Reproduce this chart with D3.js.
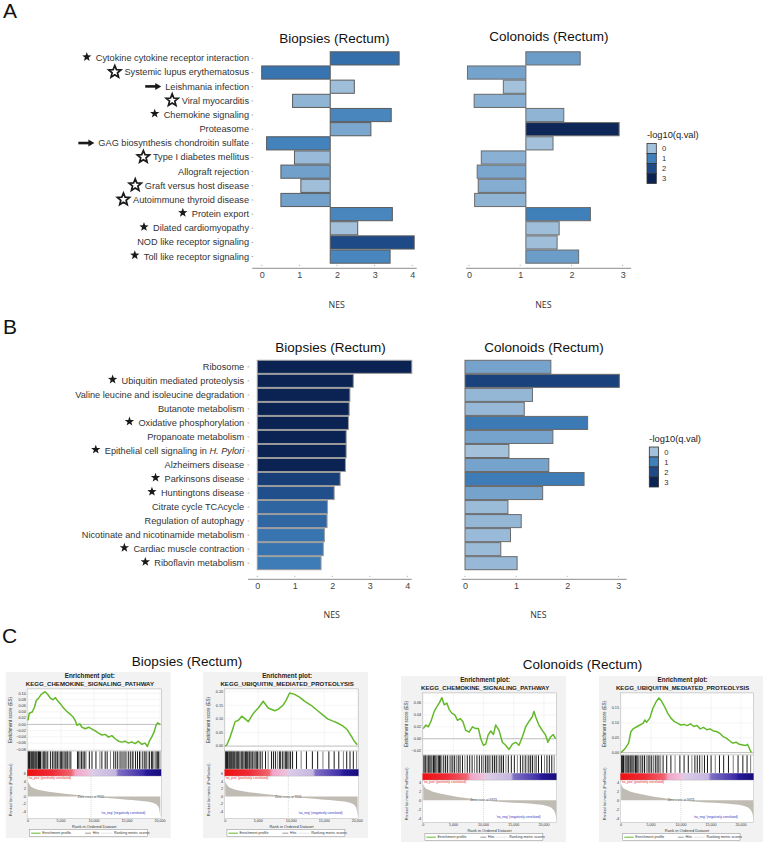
<!DOCTYPE html>
<html><head><meta charset="utf-8">
<script src="https://cdn.jsdelivr.net/npm/d3@7"></script>
<style>body{margin:0;background:#fff}svg{display:block;font-family:"Liberation Sans",Arial,sans-serif}</style>
</head><body><svg id="c" width="764" height="843"></svg>
<script>
// ---------------- DATA ----------------
const pathwaysA = ["Cytokine cytokine receptor interaction","Systemic lupus erythematosus","Leishmania infection","Viral myocarditis","Chemokine signaling","Proteasome","GAG biosynthesis chondroitin sulfate","Type I diabetes mellitus","Allograft rejection","Graft versus host disease","Autoimmune thyroid disease","Protein export","Dilated cardiomyopathy","NOD like receptor signaling","Toll like receptor signaling"];
const symbolsA = ["star","ostar","arrow","ostar","star","","arrow","ostar","","ostar","ostar","star","star","","star"];
const nesBiopsyA = [3.65,0.0,2.46,0.82,3.44,2.90,0.13,0.87,0.51,1.04,0.51,3.47,2.55,4.05,3.41];
const qBiopsyA = [1.3,1.2,0.05,0.2,0.9,0.4,0.95,0.1,0.5,0.05,0.5,0.9,0.0,2.0,0.9];
const nesColonoidA = [2.17,-0.03,0.67,0.10,1.85,2.93,1.64,0.24,0.16,0.18,0.11,2.37,1.76,1.72,2.14];
const qColonoidA = [0.55,0.45,0.0,0.25,0.2,2.9,0.0,0.25,0.4,0.3,0.2,1.0,0.05,0.05,0.55];
const baselineBiopsyA = 1.82;
const baselineColonoidA = 1.11;

const pathwaysB = ["Ribosome","Ubiquitin mediated proteolysis","Valine leucine and isoleucine degradation","Butanote metabolism","Oxidative phosphorylation","Propanoate metabolism","Epithelial cell signaling in H. Pylori","Alzheimers disease","Parkinsons disease","Huntingtons disease","Citrate cycle TCAcycle","Regulation of autophagy","Nicotinate and nicotinamide metabolism","Cardiac muscle contraction","Riboflavin metabolism"];
const symbolsB = ["","star","","","star","","star","","star","star","","","","star","star"];
const nesBiopsyB = [4.12,2.56,2.47,2.45,2.43,2.37,2.37,2.35,2.21,2.05,1.87,1.86,1.79,1.76,1.70];
const qBiopsyB = [3,3,3,3,3,3,3,3,2.3,1.9,1.5,1.45,1.2,1.2,1.05];
const nesColonoidB = [1.68,3.02,1.32,1.16,2.40,1.72,0.86,1.64,2.33,1.52,0.84,1.10,0.89,0.70,1.02];
const qColonoidB = [0.45,2.2,0.15,0.12,1.1,0.45,0.0,0.45,1.05,0.45,0.08,0.15,0.1,0.08,0.12];

const ticksBiopsy = [0,1,2,3,4];
const ticksColonoid = [0,1,2,3];
const legendLevels = [0,1,2,3];

// GSEA enrichment plots: [rank, enrichment score]
const esBiopsyChemokine = [[0,0.013],[200,0.036],[650,0.040],[1000,0.056],[1260,0.077],[1660,0.086],[2010,0.096],[2410,0.103],[2660,0.104],[3010,0.096],[3420,0.084],[3820,0.079],[4170,0.086],[4520,0.075],[4920,0.066],[5330,0.054],[5830,0.043],[6330,0.034],[6830,0.024],[7190,0.011],[7440,-0.003],[7840,0.002],[8190,-0.009],[8690,-0.014],[9200,-0.009],[9700,-0.015],[10200,-0.021],[10700,-0.028],[11210,-0.034],[11710,-0.032],[12210,-0.041],[12710,-0.036],[13220,-0.046],[13720,-0.054],[14220,-0.057],[14720,-0.054],[15230,-0.060],[15730,-0.056],[16230,-0.062],[16730,-0.054],[17240,-0.064],[17740,-0.060],[18090,-0.071],[18390,-0.054],[18740,-0.041],[19100,-0.025],[19400,-0.003],[19650,0.005],[19900,0.002],[20050,0.000]];
const esBiopsyUbiquitin = [[0,0.0],[250,0.005],[750,0.034],[1100,0.06],[1500,0.09],[2000,0.095],[2500,0.11],[3000,0.10],[3500,0.09],[4250,0.12],[5000,0.14],[5750,0.165],[6500,0.14],[7500,0.13],[8000,0.135],[8750,0.15],[9250,0.17],[9750,0.195],[10500,0.19],[11250,0.18],[12000,0.165],[13000,0.15],[14000,0.13],[15000,0.11],[15500,0.10],[16500,0.09],[17000,0.085],[17750,0.075],[18500,0.06],[19000,0.04],[19500,0.02],[20000,0.005]];
const esColonoidChemokine = [[0,0.017],[440,0.023],[830,0.02],[1270,0.029],[1820,0.046],[2260,0.054],[2640,0.06],[3090,0.069],[3470,0.057],[3910,0.06],[4300,0.049],[4740,0.043],[5230,0.04],[5680,0.031],[6120,0.034],[6560,0.029],[7050,0.014],[7600,0.011],[8150,0.02],[8710,0.017],[9150,0.017],[9530,0.0],[9970,-0.011],[10360,-0.009],[10740,0.006],[11190,0.013],[11630,0.007],[12010,0.023],[12560,0.014],[13110,-0.006],[13660,-0.011],[14220,-0.018],[14770,-0.009],[15320,-0.006],[15870,-0.011],[16420,0.003],[16970,0.02],[17520,0.029],[18070,0.037],[18350,0.046],[18620,0.037],[19170,0.023],[19730,0.014],[20280,0.006],[20660,-0.006],[21100,0.003],[21540,0.007],[21930,0.0]];
const esColonoidUbiquitin = [[0,0.0],[706,0.015],[1250,0.032],[1630,0.071],[2060,0.081],[2610,0.087],[3150,0.093],[3690,0.099],[3960,0.11],[4240,0.102],[4780,0.116],[5320,0.15],[5860,0.172],[6300,0.184],[6680,0.175],[7220,0.156],[7760,0.133],[8310,0.116],[8850,0.105],[9390,0.099],[9940,0.093],[10480,0.095],[11020,0.091],[11570,0.097],[12110,0.088],[12650,0.091],[13190,0.08],[13740,0.085],[14280,0.077],[14820,0.08],[15370,0.073],[15910,0.071],[16450,0.065],[17000,0.054],[17540,0.049],[18080,0.04],[18620,0.032],[19170,0.035],[19710,0.028],[20250,0.026],[20800,0.024],[21070,0.028],[21500,0.009],[21720,0.0]];

const hitsBiopsyChemokine = [50,150,250,400,500,650,800,900,1050,1200,1350,1500,1600,1750,1900,2100,2300,2450,2600,2800,3000,3400,3700,3900,4100,4250,4500,4700,4900,5100,5300,5500,5650,5900,6050,6300,6500,7500,7700,7900,8100,8350,8600,8800,9300,9700,10300,10900,11200,11700,12000,12500,13000,13300,13600,13900,14100,14400,14700,14900,15200,15500,15800,16000,16300,16600,16900,17100,17400,17700,17900,18200,18400,18700,18900,19100,19400,19600,19800,20000];
const hitsBiopsyUbiquitin = [60,200,350,500,600,750,900,1000,1150,1300,1450,1600,1750,1900,2050,2200,2400,2550,2700,2900,3050,3200,3400,3550,3700,3900,4100,4300,4500,4700,4900,5100,5300,5600,6100,6500,7000,7300,7600,7900,8200,8400,8700,8900,9100,9300,9500,9700,9900,10200,10800,11500,12300,13200,14000,14800,15700,16500,17200,17900,18400,18900,19400,19900];
const hitsColonoidChemokine = [100,300,450,700,900,1100,1300,1500,1700,1900,2100,2300,2500,2700,2900,3100,3400,3700,4000,4300,4600,4900,5200,5500,5800,6100,6500,6900,7300,7700,8100,8500,8900,9300,9700,10000,10300,10600,10900,11200,11500,11800,12100,12400,12700,13000,13300,13700,14100,14600,15100,15600,16100,16500,16900,17200,17500,17800,18100,18400,18700,19100,19600,20100,20500,20900,21300,21700];
const hitsColonoidUbiquitin = [80,250,400,600,800,1000,1200,1400,1600,1800,2000,2200,2400,2600,2800,3000,3300,3600,3900,4200,4500,4800,5100,5400,5700,6000,6300,6600,7000,7600,8300,9000,9800,10500,11200,11800,12300,12700,13100,13500,13900,14400,15000,15700,16400,17100,17900,18700,19500,20300,21000,21600];

// ranked list metric: [rank, metric]
const metricBiopsy = [[0,4.0],[300,3.0],[900,2.2],[2500,1.5],[5000,0.9],[7500,0.4],[9555,0],[12000,-0.4],[15000,-0.8],[18000,-1.3],[19200,-1.8],[19800,-2.8],[20050,-5.3]];
const metricColonoid = [[0,3.6],[300,2.8],[800,2.4],[4000,1.2],[7000,0.5],[9973,0],[13000,-0.4],[18000,-0.8],[20500,-1.3],[21500,-2.0],[21900,-3.0],[22050,-4.3]];
const zeroCrossBiopsy = 9555;
const zeroCrossColonoid = 9973;
const rankTicks = [0,5000,10000,15000,20000];

// ---------------- DRAW ----------------
const svg = d3.select('#c');
svg.append('rect').attr('width',764).attr('height',843).attr('fill','#fff');
const color = d3.scaleLinear().domain([0,1,2,3]).range(['#a3c1db','#3f7fba','#1e4a87','#0b2353']).clamp(true);

function starPath(cx,cy,R,r){
  const p=[];
  for(let i=0;i<10;i++){const a=-Math.PI/2+i*Math.PI/5;const rr=i%2?r:R;p.push([cx+rr*Math.cos(a),cy+rr*Math.sin(a)]);}
  return 'M'+p.map(d=>d[0].toFixed(2)+','+d[1].toFixed(2)).join('L')+'Z';
}

function barPanel(o){
  const y = d3.scaleBand().domain(o.names).range(o.yRange).paddingInner(0.07);
  const x = d3.scaleLinear().domain(o.xDomain).range(o.xRange);
  const g = svg.append('g');
  g.selectAll('rect.bar').data(o.names).join('rect').attr('class','bar')
    .attr('x',(d,i)=>Math.min(x(o.values[i]),x(o.baseline)))
    .attr('width',(d,i)=>Math.abs(x(o.values[i])-x(o.baseline)))
    .attr('y',d=>y(d)).attr('height',y.bandwidth())
    .attr('fill',(d,i)=>color(o.q[i]))
    .attr('stroke',o.stroke).attr('stroke-width',1);
  // x axis
  g.append('line').attr('x1',o.axisExtent[0]).attr('x2',o.axisExtent[1])
    .attr('y1',o.axisY).attr('y2',o.axisY).attr('stroke','#8c8c8c').attr('stroke-width',1);
  g.selectAll('rect.tk').data(o.ticks).join('rect').attr('class','tk')
    .attr('x',d=>x(d)-0.5).attr('y',o.axisY-3.5).attr('width',1).attr('height',1.2).attr('fill','#b5b5b5');
  const ax = g.append('g').attr('transform',`translate(0,${o.axisY})`)
    .call(d3.axisBottom(x).tickValues(o.ticks).tickFormat(d3.format('d')).tickSize(0).tickPadding(3.6));
  ax.select('.domain').remove();
  ax.selectAll('text').attr('font-size',9).attr('fill','#444').attr('font-family','"Liberation Sans",Arial,sans-serif');
  // y labels
  if(o.labelX){
    const ay = g.append('g').attr('transform',`translate(${o.labelX},0)`)
      .call(d3.axisLeft(y).tickSize(1.6).tickPadding(o.labelPad));
    ay.select('.domain').remove();
    ay.selectAll('line').attr('stroke','#aaa');
    ay.selectAll('text').attr('font-size',9.2).attr('fill','#333').attr('font-family','"Liberation Sans",Arial,sans-serif')
      .each(function(d){
        if(d.indexOf('H. Pylori')>=0){
          const t=d3.select(this); t.text(null);
          t.append('tspan').text(d.replace('H. Pylori',''));
          t.append('tspan').attr('font-style','italic').text('H. Pylori');
        }
      });
    ay.selectAll('.tick').each(function(d,i){
      const s=o.symbols[i]; if(!s) return;
      const bb=this.querySelector('text').getBBox();
      const x0=o.labelX+bb.x; const cy=y(d)+y.bandwidth()/2;
      if(s==='star'){
        g.append('path').attr('d',starPath(x0-9,cy-1.4,4.9,2.0)).attr('fill','#1a1a1a');
      } else if(s==='ostar'){
        g.append('path').attr('d',starPath(x0-9.6,cy-0.6,6.4,2.8)).attr('fill','#fff').attr('stroke','#1a1a1a').attr('stroke-width',1.7).attr('stroke-linejoin','miter');
      } else if(s==='arrow'){
        const tip=x0-4;
        g.append('line').attr('x1',tip-16).attr('x2',tip-4).attr('y1',cy-0.3).attr('y2',cy-0.3).attr('stroke','#1a1a1a').attr('stroke-width',2.6);
        g.append('path').attr('d',`M${tip},${cy-0.3}L${tip-6},${cy-3.8}L${tip-6},${cy+3.2}Z`).attr('fill','#1a1a1a');
      }
    });
  }
}

// Panel A
barPanel({names:pathwaysA,values:nesBiopsyA,q:qBiopsyA,baseline:baselineBiopsyA,xDomain:[0,4],xRange:[261.7,412.3],
  axisExtent:[252.3,416.7],yRange:[51.8,263.2],axisY:268.3,ticks:ticksBiopsy,stroke:'#5a5a5a',labelX:253.2,labelPad:2.6,symbols:symbolsA});
barPanel({names:pathwaysA,values:nesColonoidA,q:qColonoidA,baseline:baselineColonoidA,xDomain:[0,3],xRange:[469,622.7],
  axisExtent:[466,631],yRange:[51.8,263.2],axisY:268.3,ticks:ticksColonoid,stroke:'#6a6a6a'});
// Panel B
barPanel({names:pathwaysB,values:nesBiopsyB,q:qBiopsyB,baseline:0,xDomain:[0,4],xRange:[257.3,407.3],
  axisExtent:[248,411.7],yRange:[360.3,569.7],axisY:579.3,ticks:ticksBiopsy,stroke:'#9a9a9a',labelX:249.2,labelPad:3.4,symbols:symbolsB});
barPanel({names:pathwaysB,values:nesColonoidB,q:qColonoidB,baseline:0,xDomain:[0,3],xRange:[465,618.3],
  axisExtent:[461.7,626.7],yRange:[360.3,569.7],axisY:579.3,ticks:ticksColonoid,stroke:'#6a6a6a'});

// titles & labels
function txt(x,y,s,size,opt={}){
  const t=svg.append('text').attr('x',x).attr('y',y).attr('font-size',size).attr('fill',opt.fill||'#111')
    .attr('text-anchor',opt.anchor||'middle').text(s);
  if(opt.weight) t.attr('font-weight',opt.weight);
  if(opt.family) t.attr('font-family',opt.family);
  return t;
}
txt(3,18,'A',21,{anchor:'start'});
txt(3,334,'B',21,{anchor:'start'});
txt(2,643,'C',21,{anchor:'start'});
txt(334.3,42.7,'Biopsies (Rectum)',13.5);
txt(548.8,41.2,'Colonoids (Rectum)',13.5);
txt(330.5,352,'Biopsies (Rectum)',13.5);
txt(544,352.3,'Colonoids (Rectum)',13.5);
const nesFont='"Open Sans","DejaVu Sans",sans-serif';
txt(336.7,308.3,'NES',8.8,{family:nesFont,fill:'#333'});
txt(543.3,308.3,'NES',8.8,{family:nesFont,fill:'#333'});
txt(331.7,618.3,'NES',8.8,{family:nesFont,fill:'#333'});
txt(538.3,618.3,'NES',8.8,{family:nesFont,fill:'#333'});
txt(187,666,'Biopsies (Rectum)',13.5);
txt(582.5,669.3,'Colonoids (Rectum)',13.5);

// legends
function legend(x,y){
  const g=svg.append('g');
  g.append('text').attr('x',x).attr('y',y).attr('font-size',9.3).attr('fill','#222').text('-log10(q.val)');
  g.selectAll('rect').data(legendLevels).join('rect')
    .attr('x',x).attr('y',(d,i)=>y+5.5+i*10).attr('width',9.3).attr('height',10)
    .attr('fill',d=>color(d)).attr('stroke','#333').attr('stroke-width',0.8);
  g.selectAll('text.lv').data(legendLevels).join('text').attr('class','lv')
    .attr('x',x+15).attr('y',(d,i)=>y+5.5+i*10+7.6).attr('font-size',7.6).attr('fill','#333').text(d=>d);
}
legend(647,138);
legend(649.3,441.5);

// GSEA gradient
const defs=svg.append('defs');
const grad=defs.append('linearGradient').attr('id','gseaGrad');
[[0,'#ee1010'],[0.18,'#ee2a36'],[0.33,'#f0646e'],[0.36,'#f2a4c8'],[0.46,'#eec2dc'],[0.48,'#dccce8'],[0.66,'#c4b6e0'],[0.68,'#8070c4'],[0.86,'#3e2ea8'],[0.89,'#261898'],[1,'#160c7a']]
  .forEach(s=>grad.append('stop').attr('offset',s[0]).attr('stop-color',s[1]));

function gsea(c){
  const {x0,y0,w,h}=c.box;
  const g=svg.append('g').attr('font-family','"Liberation Sans",Arial,sans-serif');
  g.append('rect').attr('x',x0).attr('y',y0).attr('width',w).attr('height',h).attr('fill','#f2f2f2');
  const L=x0+0.13*w, R=x0+0.943*w;
  const yT=y0+0.102*h, yE=y0+0.476*h, yH=y0+0.586*h, yC=y0+0.627*h, yM=y0+0.881*h;
  const x=d3.scaleLinear().domain([0,c.xmax]).range([L+0.8,R]);
  const mid=x0+0.51*w;
  g.append('text').attr('x',mid).attr('y',y0+0.036*h).attr('text-anchor','middle').attr('font-weight','bold').attr('font-size',6.3).attr('fill','#222').text('Enrichment plot:');
  g.append('text').attr('x',mid).attr('y',y0+0.086*h).attr('text-anchor','middle').attr('font-weight','bold').attr('font-size',6.1).attr('fill','#222').text(c.name);
  // ES panel
  g.append('rect').attr('x',L).attr('y',yT).attr('width',R-L).attr('height',yE-yT).attr('fill','#fff').attr('stroke','#a8a8a8').attr('stroke-width',0.5);
  const ye=d3.scaleLinear().domain(c.esDomain).range([yE,yT]);
  g.selectAll('line.gx').data(rankTicks).join('line').attr('class','gx').attr('x1',d=>x(d)).attr('x2',d=>x(d)).attr('y1',yT).attr('y2',yE).attr('stroke','#e6e6e6').attr('stroke-width',0.4);
  g.selectAll('line.gy').data(c.esTicks).join('line').attr('class','gy').attr('x1',L).attr('x2',R).attr('y1',d=>ye(d)).attr('y2',d=>ye(d)).attr('stroke','#e6e6e6').attr('stroke-width',0.4);
  g.append('line').attr('x1',L).attr('x2',R).attr('y1',ye(0)).attr('y2',ye(0)).attr('stroke','#8a8a8a').attr('stroke-width',0.5);
  g.append('path').datum(c.es).attr('d',d3.line().x(d=>x(d[0])).y(d=>ye(d[1]))).attr('fill','none').attr('stroke','#63b92a').attr('stroke-width',1.5).attr('stroke-linejoin','round');
  g.selectAll('text.ey').data(c.esTicks).join('text').attr('class','ey').attr('x',L-1.3).attr('y',d=>ye(d)+1.3).attr('text-anchor','end').attr('font-size',3.8).attr('fill','#333').text(d=>d3.format(c.esFmt)(d));
  g.append('text').attr('transform',`translate(${x0+0.04*w},${(yT+yE)/2}) rotate(-90)`).attr('text-anchor','middle').attr('font-size',4.6).attr('fill','#333').text('Enrichment score (ES)');
  // hits
  g.append('rect').attr('x',L).attr('y',yE).attr('width',R-L).attr('height',yH-yE).attr('fill','#fff').attr('stroke','#a8a8a8').attr('stroke-width',0.4);
  g.selectAll('line.hit').data(c.hits).join('line').attr('class','hit').attr('x1',d=>x(d)).attr('x2',d=>x(d)).attr('y1',yE+0.4).attr('y2',yH-0.4)
    .attr('stroke','#000').attr('stroke-width',1.0).attr('stroke-opacity',(d,i)=>i%4===3?0.5:0.9);
  // color bar
  g.append('rect').attr('x',L).attr('y',yH).attr('width',R-L).attr('height',yC-yH).attr('fill','url(#gseaGrad)');
  // metric
  g.append('rect').attr('x',L).attr('y',yC).attr('width',R-L).attr('height',yM-yC).attr('fill','#fff').attr('stroke','#a8a8a8').attr('stroke-width',0.4);
  const ym=d3.scaleLinear().domain(c.metricDomain).range([yM,yC]);
  g.append('path').datum(c.metric).attr('d',d3.area().x(d=>x(d[0])).y0(ym(0)).y1(d=>ym(d[1])).curve(d3.curveMonotoneX)).attr('fill','#c1bcb3');
  g.append('line').attr('x1',x(c.zero)).attr('x2',x(c.zero)).attr('y1',yC).attr('y2',yM).attr('stroke','#9a9a9a').attr('stroke-width',0.4).attr('stroke-dasharray','1,1');
  g.append('text').attr('x',x(c.zero)).attr('y',ym(0)+1).attr('text-anchor','middle').attr('font-size',3.2).attr('fill','#444').text('Zero cross at '+c.zero);
  g.append('text').attr('x',L+1).attr('y',yC+3.4).attr('font-size',3.2).attr('fill','#ee2222').text("'na_pos' (positively correlated)");
  g.append('text').attr('x',L+0.716*(R-L)).attr('y',y0+0.857*h).attr('text-anchor','middle').attr('font-size',3.2).attr('fill','#3333c0').text("'na_neg' (negatively correlated)");
  g.selectAll('text.my').data(c.metricTicks).join('text').attr('class','my').attr('x',L-1.3).attr('y',d=>ym(d)+1.3).attr('text-anchor','end').attr('font-size',3.8).attr('fill','#333').text(d=>d);
  g.append('text').attr('transform',`translate(${x0+0.04*w},${y0+0.71*h}) rotate(-90)`).attr('text-anchor','middle').attr('font-size',3.8).attr('fill','#333').text('Ranked list metric (PreRanked)');
  g.selectAll('text.rx').data(rankTicks).join('text').attr('class','rx').attr('x',d=>x(d)).attr('y',y0+0.905*h).attr('text-anchor','middle').attr('font-size',3.6).attr('fill','#333').text(d=>d3.format(',')(d));
  g.append('text').attr('x',(L+R)/2).attr('y',y0+0.937*h).attr('text-anchor','middle').attr('font-size',4).attr('fill','#333').text('Rank in Ordered Dataset');
  // legend
  const lx=x0+0.145*w, lw=0.715*w, ly=y0+0.95*h, lh=0.042*h;
  g.append('rect').attr('x',lx).attr('y',ly).attr('width',lw).attr('height',lh).attr('fill','#fff').attr('stroke','#8a8a8a').attr('stroke-width',0.5);
  const cy=ly+lh/2;
  g.append('line').attr('x1',lx+1.5).attr('x2',lx+11).attr('y1',cy).attr('y2',cy).attr('stroke','#63b92a').attr('stroke-width',1);
  g.append('text').attr('x',lx+12.5).attr('y',cy+1.2).attr('font-size',3.6).attr('fill','#333').text('Enrichment profile');
  g.append('line').attr('x1',lx+0.47*lw).attr('x2',lx+0.52*lw).attr('y1',cy).attr('y2',cy).attr('stroke','#333').attr('stroke-width',0.5);
  g.append('text').attr('x',lx+0.535*lw).attr('y',cy+1.2).attr('font-size',3.6).attr('fill','#333').text('Hits');
  g.append('line').attr('x1',lx+0.605*lw).attr('x2',lx+0.7*lw).attr('y1',cy).attr('y2',cy).attr('stroke','#c8c8c8').attr('stroke-width',0.5);
  g.append('text').attr('x',lx+0.715*lw).attr('y',cy+1.2).attr('font-size',3.6).attr('fill','#333').text('Ranking metric scores');
}

gsea({box:{x0:5.7,y0:672,w:165,h:166},name:'KEGG_CHEMOKINE_SIGNALING_PATHWAY',es:esBiopsyChemokine,hits:hitsBiopsyChemokine,
  esDomain:[-0.0855,0.114],esTicks:[-0.08,-0.06,-0.04,-0.02,0,0.02,0.04,0.06,0.08,0.10],esFmt:'.2f',xmax:20200,
  metric:metricBiopsy,metricDomain:[-5.7,5.4],metricTicks:[-4,-2,0,2,4,6],zero:zeroCrossBiopsy});
gsea({box:{x0:203,y0:672,w:165,h:166},name:'KEGG_UBIQUITIN_MEDIATED_PROTEOLYSIS',es:esBiopsyUbiquitin,hits:hitsBiopsyUbiquitin,
  esDomain:[-0.018,0.21],esTicks:[0,0.05,0.10,0.15,0.20],esFmt:'.2f',xmax:20200,
  metric:metricBiopsy,metricDomain:[-5.7,5.4],metricTicks:[-4,-2,0,2,4,6],zero:zeroCrossBiopsy});
gsea({box:{x0:401,y0:676,w:165,h:166},name:'KEGG_CHEMOKINE_SIGNALING_PATHWAY',es:esColonoidChemokine,hits:hitsColonoidChemokine,
  esDomain:[-0.0274,0.077],esTicks:[-0.02,0,0.02,0.04,0.06],esFmt:'.2f',xmax:22100,
  metric:metricColonoid,metricDomain:[-4.9,4.5],metricTicks:[-4,-2,0,2,4],zero:zeroCrossColonoid});
gsea({box:{x0:599,y0:676,w:164,h:166},name:'KEGG_UBIQUITIN_MEDIATED_PROTEOLYSIS',es:esColonoidUbiquitin,hits:hitsColonoidUbiquitin,
  esDomain:[-0.008,0.2008],esTicks:[0,0.05,0.10,0.15],esFmt:'.2f',xmax:22100,
  metric:metricColonoid,metricDomain:[-4.9,4.5],metricTicks:[-4,-2,0,2,4],zero:zeroCrossColonoid});
</script></body></html>
